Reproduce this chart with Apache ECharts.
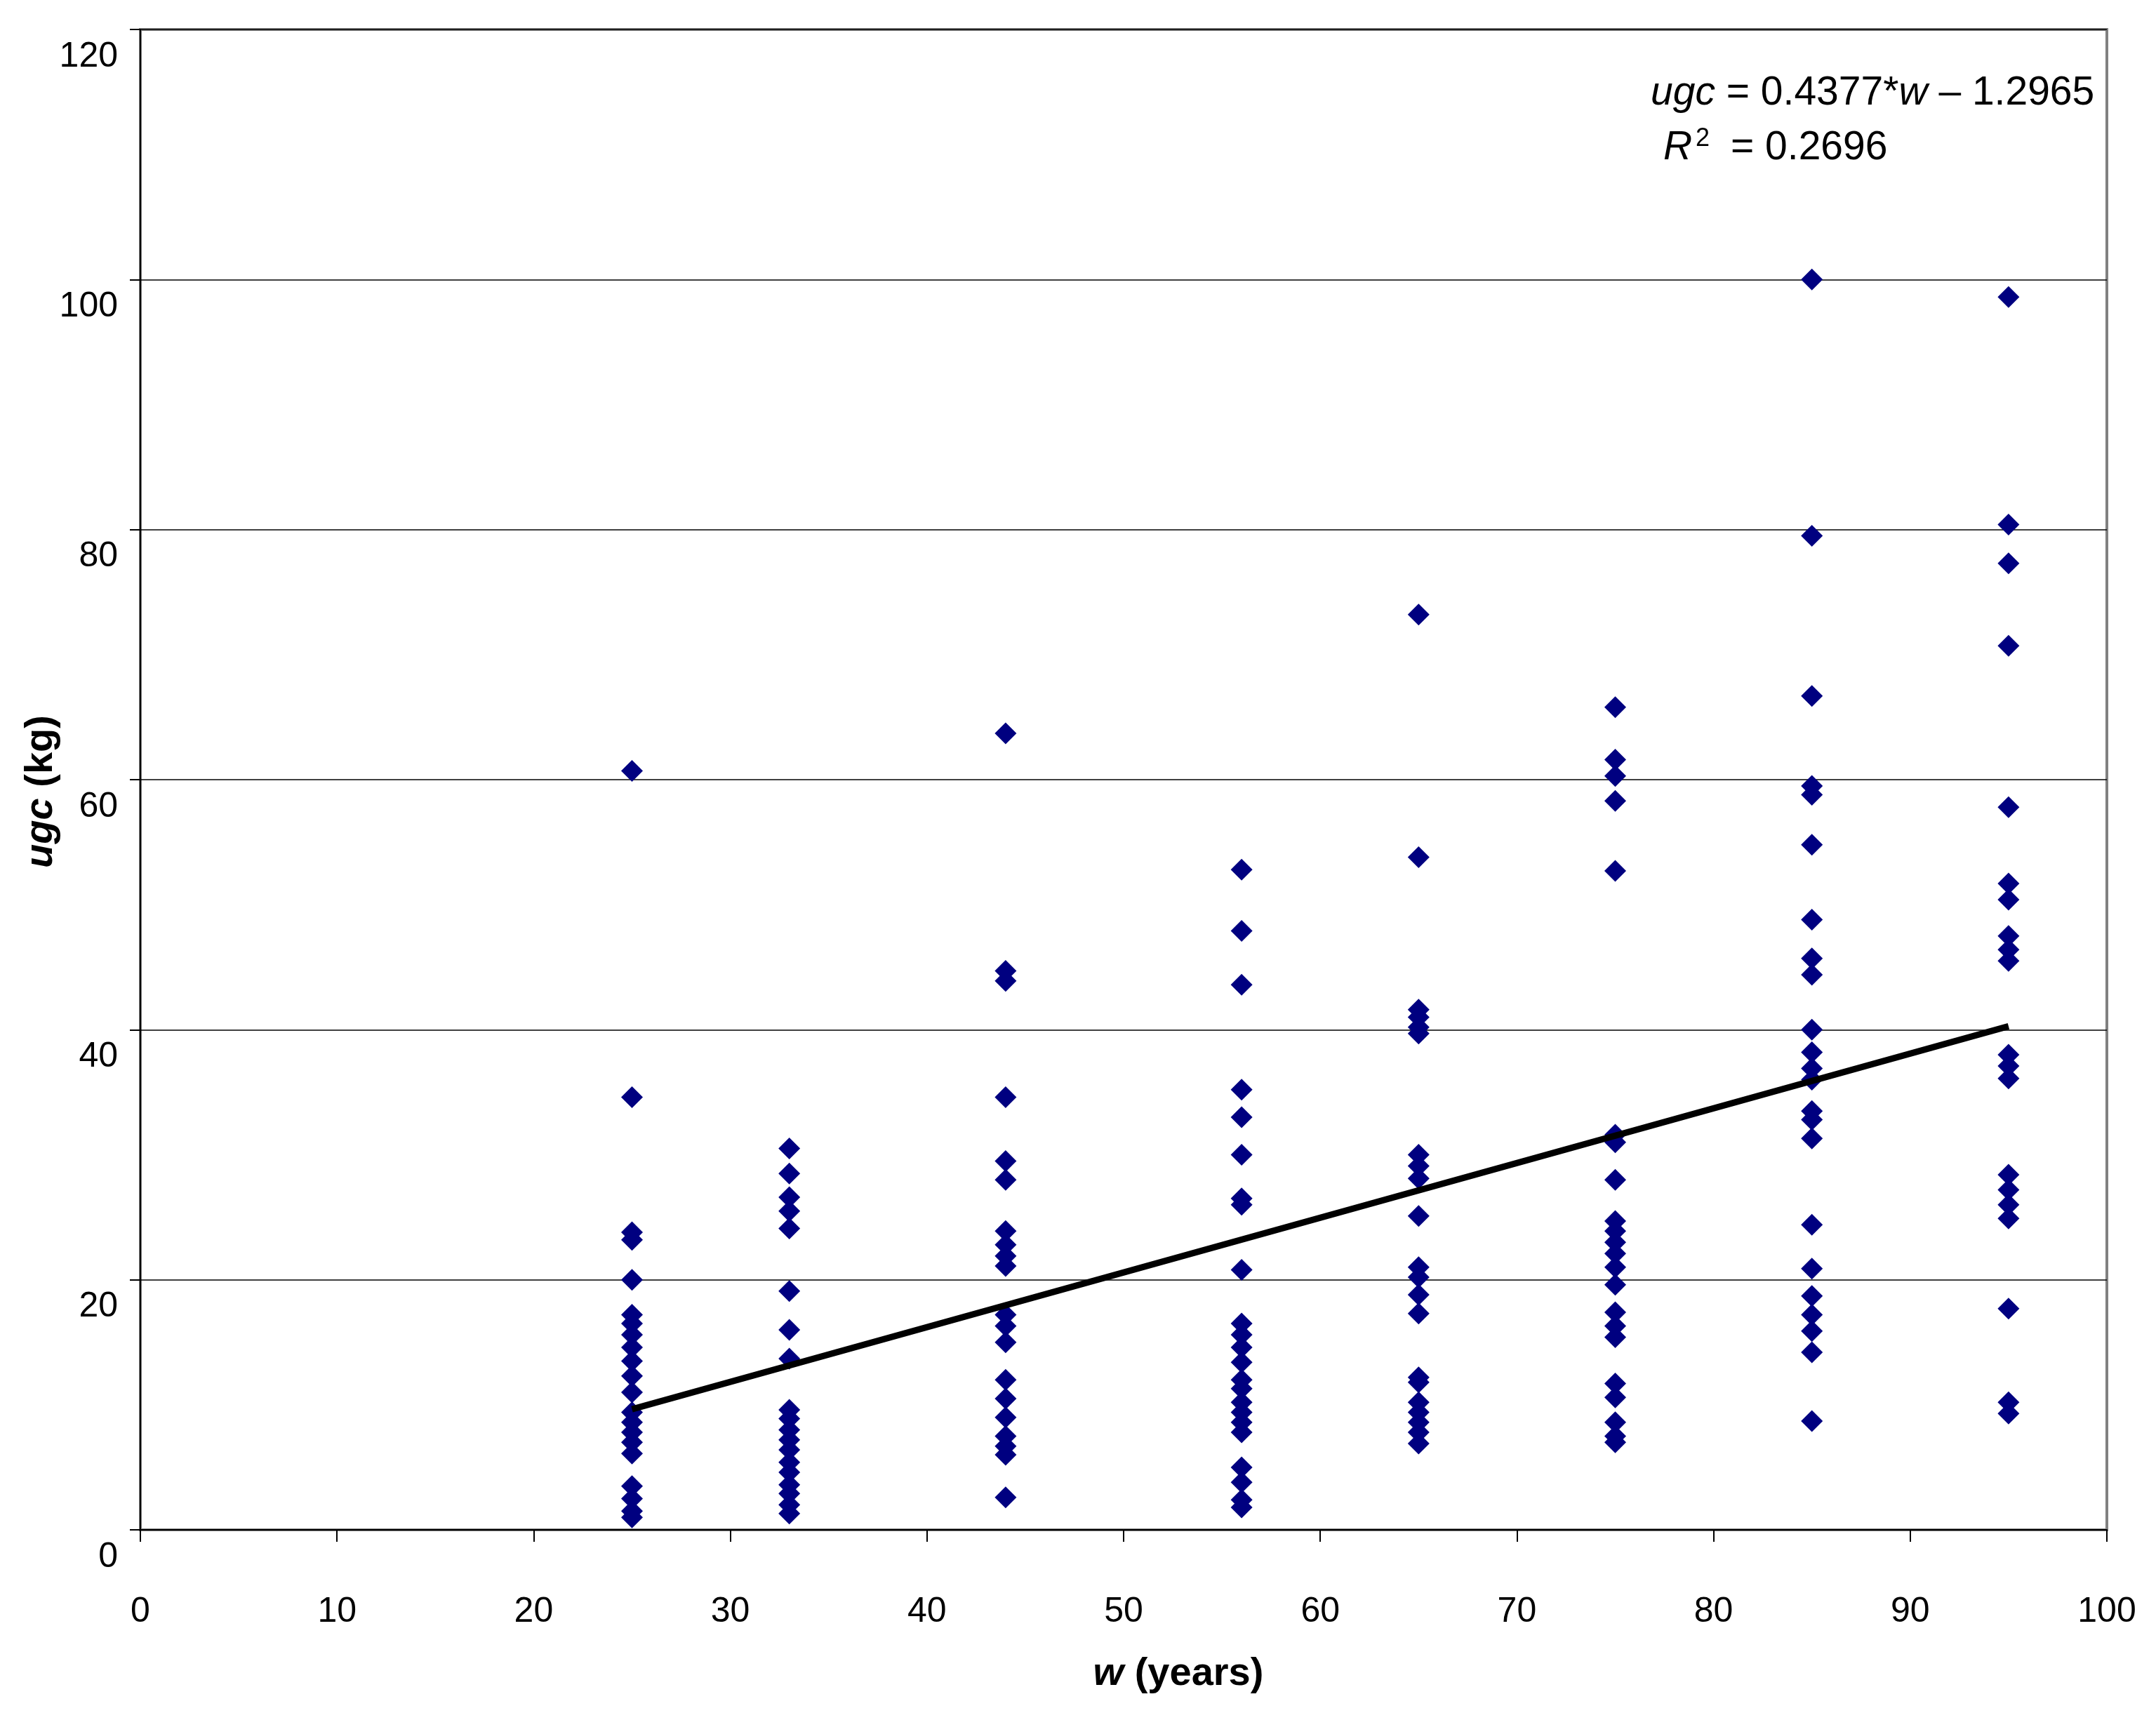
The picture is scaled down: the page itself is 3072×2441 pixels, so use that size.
<!DOCTYPE html>
<html>
<head>
<meta charset="utf-8">
<script src="https://cdn.jsdelivr.net/npm/echarts@6/dist/echarts.min.js"></script>
<style>
html,body{margin:0;padding:0;background:#fff;}
#chart{width:3072px;height:2441px;}
</style>
</head>
<body>
<div id="chart"></div>
<script>
// ---- data ----
var ageGroups = [25, 33, 44, 56, 65, 75, 85, 95];
var ugc25 = [60.7, 34.6, 23.8, 23.2, 20.0, 17.2, 16.5, 15.6, 14.6, 13.5, 12.3, 11.0, 9.4, 8.6, 7.8, 7.0, 6.1, 3.5, 2.5, 1.5, 1.0];
var ugc33 = [30.5, 28.5, 26.6, 25.5, 24.1, 19.1, 16.0, 13.7, 9.6, 8.9, 8.0, 7.2, 6.4, 5.4, 4.6, 3.6, 2.9, 2.0, 1.3];
var ugc44 = [63.7, 44.7, 43.9, 34.6, 29.5, 28.0, 23.9, 22.8, 21.9, 21.1, 17.2, 16.3, 15.0, 12.0, 10.5, 9.0, 7.5, 6.7, 6.0, 2.6];
var ugc56 = [52.8, 47.9, 43.6, 35.2, 33.0, 30.0, 26.5, 26.0, 20.8, 16.5, 15.6, 14.6, 13.4, 12.0, 11.3, 10.2, 9.4, 8.6, 7.8, 5.0, 3.8, 2.4, 1.8];
var ugc65 = [73.2, 53.8, 41.6, 41.0, 40.2, 39.7, 30.0, 29.1, 28.1, 25.1, 21.0, 20.2, 18.8, 17.3, 12.2, 11.8, 10.2, 9.4, 8.6, 7.8, 6.9];
var ugc75 = [65.8, 61.6, 60.3, 58.3, 52.7, 31.6, 31.0, 28.0, 24.7, 23.9, 23.0, 22.1, 21.0, 19.6, 17.4, 16.3, 15.4, 11.7, 10.6, 8.6, 7.5, 7.0];
var ugc85 = [100.0, 79.5, 66.7, 59.5, 58.8, 54.8, 48.8, 45.7, 44.4, 40.0, 38.2, 36.9, 36.0, 33.5, 32.8, 31.3, 24.4, 20.9, 18.7, 17.2, 15.9, 14.2, 8.7];
var ugc95 = [98.6, 80.4, 77.3, 70.7, 57.8, 51.7, 50.4, 47.5, 46.4, 45.5, 38.0, 37.1, 36.1, 28.4, 27.2, 26.0, 24.9, 17.7, 10.2, 9.3];
var trendLine = [[25, 9.65], [95, 40.28]];
var xTicks = [0, 10, 20, 30, 40, 50, 60, 70, 80, 90, 100];
var yTicks = [0, 20, 40, 60, 80, 100, 120];
var equationText = ['ugc', ' = 0.4377*', 'w', ' \u2013 1.2965'];
var r2Text = '= 0.2696';

// ---- build ----
var columns = [ugc25, ugc33, ugc44, ugc56, ugc65, ugc75, ugc85, ugc95];
var points = [];
columns.forEach(function (col, i) {
  col.forEach(function (v) { points.push([ageGroups[i], v]); });
});

var FONT = 'Liberation Sans, Arial, sans-serif';
var chart = echarts.init(document.getElementById('chart'), null, {renderer: 'canvas'});

chart.setOption({
  backgroundColor: '#ffffff',
  animation: false,
  grid: {
    left: 200, right: 70, top: 42, bottom: 261,
    show: true, borderColor: '#808080', borderWidth: 4, backgroundColor: 'transparent'
  },
  xAxis: {
    type: 'value', min: xTicks[0], max: xTicks[xTicks.length - 1], interval: 10,
    axisLine: {show: true, onZero: false, lineStyle: {color: '#000', width: 2}},
    axisTick: {show: true, inside: false, length: 17, lineStyle: {color: '#000', width: 2}},
    axisLabel: {show: true, margin: 92, fontSize: 50, fontFamily: FONT, color: '#000'},
    splitLine: {show: false}
  },
  yAxis: {
    type: 'value', min: yTicks[0], max: yTicks[yTicks.length - 1], interval: 20,
    axisLine: {show: true, onZero: false, lineStyle: {color: '#000', width: 2}},
    axisTick: {show: true, inside: false, length: 15, lineStyle: {color: '#000', width: 2}},
    axisLabel: {show: true, margin: 32, fontSize: 50, fontFamily: FONT, color: '#000',
      verticalAlign: 'top', lineHeight: 78},
    splitLine: {show: true, lineStyle: {color: '#000', width: 1.5}}
  },
  series: [
    {
      type: 'scatter', data: points, symbol: 'diamond', symbolSize: 31,
      itemStyle: {color: '#000080', opacity: 1}, z: 3
    },
    {
      type: 'line', data: trendLine, symbol: 'none', z: 5,
      lineStyle: {color: '#000', width: 9}
    }
  ],
  graphic: [
    {
      type: 'text', x: 2352, y: 133, z: 10,
      style: {
        text: '{i|' + equationText[0] + '}' + equationText[1] + '{i|' + equationText[2] + '}' + equationText[3],
        fontSize: 57, fontFamily: FONT, fill: '#000', verticalAlign: 'middle', align: 'left',
        rich: {i: {fontStyle: 'italic', fontSize: 57, fontFamily: FONT, fill: '#000'}}
      }
    },
    {
      type: 'text', x: 2370, y: 211, z: 10,
      style: {text: 'R', fontStyle: 'italic', fontSize: 57, fontFamily: FONT, fill: '#000', verticalAlign: 'middle', align: 'left'}
    },
    {
      type: 'text', x: 2416, y: 198, z: 10,
      style: {text: '2', fontSize: 36, fontFamily: FONT, fill: '#000', verticalAlign: 'middle', align: 'left'}
    },
    {
      type: 'text', x: 2466, y: 211, z: 10,
      style: {text: r2Text, fontSize: 57, fontFamily: FONT, fill: '#000', verticalAlign: 'middle', align: 'left'}
    },
    {
      type: 'text', x: 1679, y: 2386, z: 10,
      style: {
        text: '{bi|w} (years)', fontSize: 56, fontWeight: 'bold', fontFamily: FONT, fill: '#000',
        align: 'center', verticalAlign: 'middle',
        rich: {bi: {fontStyle: 'italic', fontWeight: 'bold', fontSize: 56, fontFamily: FONT, fill: '#000'}}
      }
    },
    {
      type: 'text', x: 59, y: 1128, rotation: Math.PI / 2, z: 10,
      style: {
        text: '{bi|ugc} (kg)', fontSize: 56, fontWeight: 'bold', fontFamily: FONT, fill: '#000',
        align: 'center', verticalAlign: 'middle',
        rich: {bi: {fontStyle: 'italic', fontWeight: 'bold', fontSize: 56, fontFamily: FONT, fill: '#000'}}
      }
    }
  ]
});
</script>
</body>
</html>
